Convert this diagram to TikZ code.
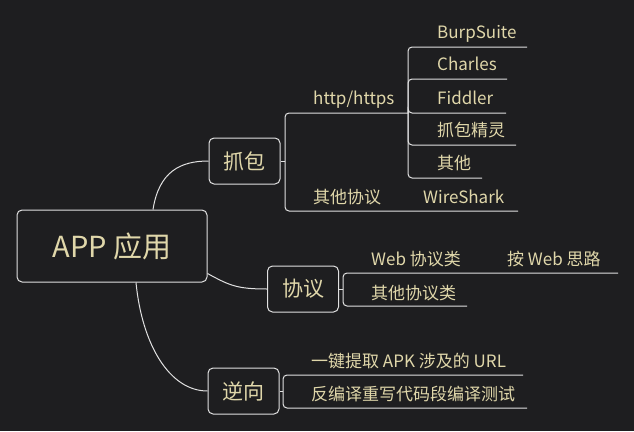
\documentclass[tikz,border=0pt]{standalone}
\usepackage{fontspec}
\setmainfont{Noto Sans CJK SC}
\usepackage{tikz}
\usetikzlibrary{calc,positioning}
\definecolor{bgdark}{RGB}{30,30,32}
\definecolor{txtbeige}{RGB}{224,215,170}
\definecolor{linewhite}{RGB}{225,225,225}
\tikzset{
  topicbox/.style={draw=linewhite,line width=1pt,rounded corners=5pt,fill=bgdark,text=txtbeige,
    inner sep=0pt,minimum width=71pt,minimum height=46pt,font=\fontsize{21}{24}\selectfont},
  rootbox/.style={topicbox,minimum width=190pt,minimum height=72pt,font=\fontsize{29}{32}\selectfont},
  leaf/.style={anchor=west,inner sep=0pt,text=txtbeige,text height=16pt,text depth=1pt,
    font=\fontsize{17}{20}\selectfont},
  link/.style={draw=linewhite,line width=1pt},
  branch/.style={link,rounded corners=4pt}
}
\begin{document}
\begin{tikzpicture}[x=1pt,y=-1pt]
\fill[bgdark] (0,0) rectangle (634,431);
\useasboundingbox (0,0) rectangle (634,431);
%Hauptthema und die drei Zweige
\node[rootbox] (app) at (112,246) {APP 应用};
\node[topicbox] (zhua) at (244.5,161) {抓包};
\node[topicbox] (xieyi) at (303,289) {协议};
\node[topicbox] (nixiang) at (243.5,391) {逆向};
\draw[link] ([xshift=41]app.north) .. controls +(6,-38) and +(-28,0) .. (zhua.west);
\draw[link] ([yshift=9]app.south east) .. controls +(22,12) and +(-30,0) .. (xieyi.west);
\draw[link] ([xshift=24]app.south) .. controls +(6,62) and +(-38,0) .. (nixiang.west);
%Zweig 抓包
\coordinate (zb) at (285,161);
\coordinate (hb) at (408,113);
\coordinate (ws) at (518,211);
\draw[link] (zhua.east) -- (zb);
\draw[branch] (zb) |- (hb);
\draw[branch] (zb) |- (ws);
\node[leaf] (http) at (313,97) {http/https};
\node[leaf] (andere) at (313,196) {其他协议};
\node[leaf] (wireshark) at (423,196) {WireShark};
\foreach \name/\y/\len [count=\i] in {BurpSuite/47/527,Charles/79/507,Fiddler/113/506,抓包精灵/145/516,其他/178/482}{
  \coordinate (hc\i) at (\len,\y);
  \draw[branch] (hb) |- (hc\i);
  \node[leaf] (tool\i) at (437,\y-16) {\name};
}
%Zweig 协议
\coordinate (xb) at (343,289);
\coordinate (webE) at (618,273);
\coordinate (sonstE) at (467,306);
\draw[link] (xieyi.east) -- (xb);
\draw[branch] (xb) |- (webE);
\draw[branch] (xb) |- (sonstE);
\node[leaf] (web) at (371,258) {Web 协议类};
\node[leaf] (websi) at (507,258) {按 Web 思路};
\node[leaf] (sonst) at (371,292) {其他协议类};
%Zweig 逆向
\coordinate (nb) at (283,391);
\coordinate (urlE) at (523,375);
\coordinate (testE) at (527,408);
\draw[link] (nixiang.east) -- (nb);
\draw[branch] (nb) |- (urlE);
\draw[branch] (nb) |- (testE);
\node[leaf] (url) at (311,360) {一键提取 APK 涉及的 URL};
\node[leaf] (test) at (311,393) {反编译重写代码段编译测试};
\end{tikzpicture}
\end{document}
